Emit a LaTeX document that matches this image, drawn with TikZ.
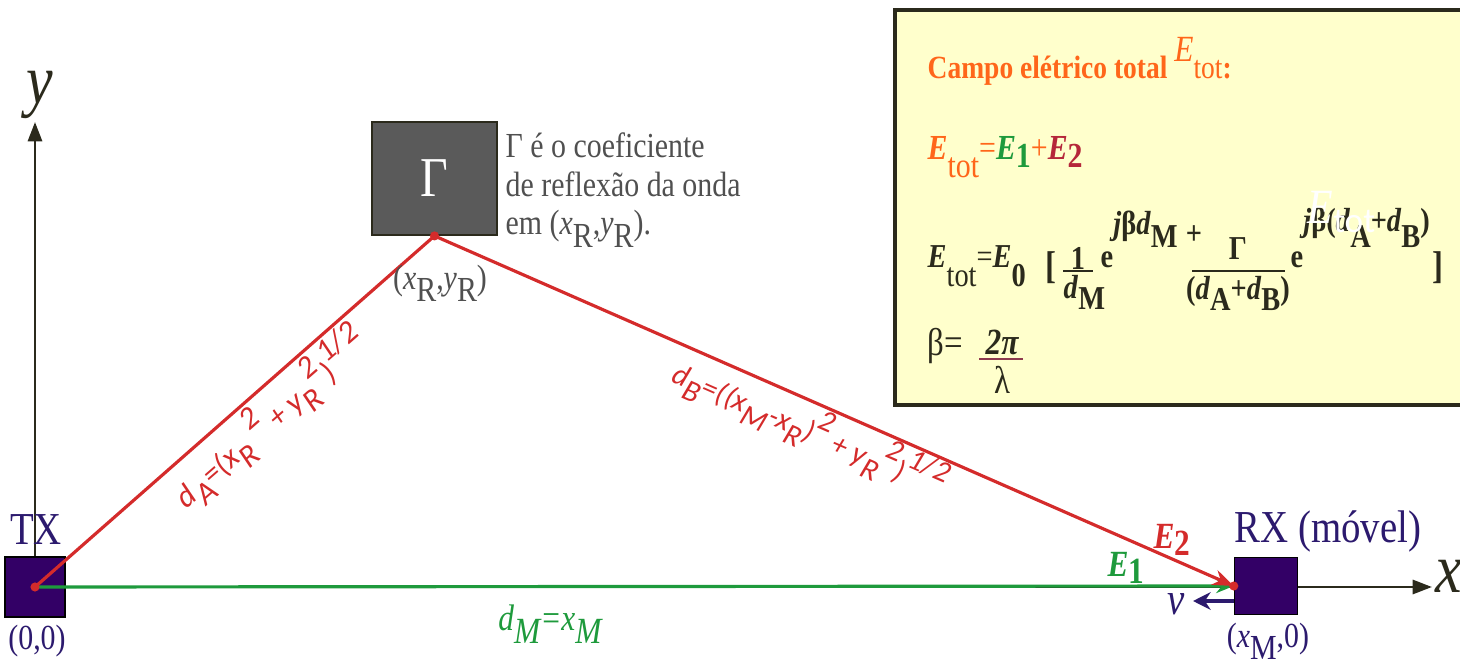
\documentclass[tikz,border=0pt]{standalone}
\usepackage{fontspec}
\setmainfont{Liberation Serif}[FakeStretch=0.85]
\setsansfont{Carlito}
\usetikzlibrary{arrows.meta,positioning}
\definecolor{navy}{HTML}{2C1A6E}
\definecolor{mobile}{HTML}{330066}
\definecolor{wave}{HTML}{D42B2B}
\definecolor{direct}{HTML}{1E9A3C}
\definecolor{orng}{HTML}{FF661A}
\definecolor{wine}{HTML}{B5273A}
\definecolor{note}{HTML}{FFFFCC}
\definecolor{ink}{HTML}{2B2A1C}
\definecolor{slab}{HTML}{5A5A5A}
\definecolor{memo}{HTML}{505050}
\definecolor{maroon}{HTML}{8E3A4E}
\newcommand{\fsz}[1]{\fontsize{#1}{#1}\selectfont}
\newcommand{\lowr}[2][-.35em]{\raisebox{#1}{#2}}
\newcommand{\rais}[2][.55em]{\raisebox{#1}{#2}}
\newcommand{\bfit}[1]{\textbf{\textit{#1}}}

\begin{document}
\begin{tikzpicture}[x=0.01cm,y=-0.01cm,
  sq/.style={draw=black,fill=mobile,line width=.4pt,inner sep=0pt},
  axis/.style={ink,line width=.8pt,-{Triangle[length=5.5pt,width=4pt]}},
  ray/.style={line width=.9pt},
  lbl/.style={navy,font=\fsz{13}},
  eq/.style={ink,anchor=base west,inner sep=0pt,font=\fsz{9.5}}]
\useasboundingbox (0,0) rectangle (1460,664);
\draw[ink,line width=.9pt,fill=note] (895,10) rectangle (1480,405);

\coordinate (o) at (35,587);
\coordinate (ytip) at (35,122);
\coordinate (xtip) at (1432,587);
\draw[axis] (o) -- (ytip);
\draw[axis] (o) -- (xtip);
\node[ink,font=\fsz{20}\itshape] (ylbl) at (40,95) {y};
\node[ink,font=\fsz{20}\itshape] (xlbl) at (1449,576) {x};

\node[sq,minimum size=.6cm] (tx) at (o) {};
\node[sq,minimum width=.63cm,minimum height=.57cm] (rx) at (1266,586) {};
\node[fill=slab,draw=ink,line width=.5pt,minimum width=1.25cm,minimum height=1.13cm,text=white,font=\fsz{16}] (refl) at (434.5,178.5) {Γ};

\draw[ray,direct,-{Stealth[length=5pt,width=4pt]}] (tx.center) -- (rx.west);
\draw[ray,wave] (tx.center) -- (refl.south);
\draw[ray,wave,-{Stealth[length=6pt,width=4.5pt]}] (refl.south) -- (rx.west);
\fill[wave] (tx.center) circle[radius=1.3pt] (refl.south) circle[radius=1.3pt] (rx.west) circle[radius=1.3pt];

\coordinate (vtip) at (1193,601);
\draw[navy,line width=1pt,-{Stealth[length=5pt,width=5pt]}] (rx.west |- vtip) -- (vtip);
\node[navy,font=\fsz{13}\itshape] (vlbl) at (1176,604) {v};

\node[lbl] (txlbl) at (36,530) {TX};
\node[lbl] (rxlbl) at (1328,531) {RX (móvel)};
\node[navy,font=\fsz{10}] (orig) at (37,641) {(0,0)};
\node[navy,font=\fsz{10}] (rxpos) at (1268,641) {(\textit{x}\lowr{M},0)};

\node[direct,font=\fsz{10.5}] (e1) at (1126,568) {\bfit{E}\lowr[-.2em]{\textbf{1}}};
\node[wave,font=\fsz{10.5}] (e2) at (1172,540) {\bfit{E}\lowr[-.2em]{\textbf{2}}};
\node[direct,font=\fsz{10.5}\itshape] (dm) at (550,624) {d\lowr{M}=x\lowr{M}};

\node[wave,font=\sffamily\itshape\fsz{9},rotate=41.05] (dalbl) at (270,418) {d\lowr{A}=(x\lowr{R} \rais{2} + y\lowr{R}\rais{2})\rais{1/2}};
\node[wave,font=\sffamily\itshape\fsz{8.6},rotate=-23.65] (dblbl) at (810,428) {d\lowr{B}=((x\lowr{M}-x\lowr{R})\rais{2} + y\lowr{R}\rais{2})\rais{1/2}};

\node[memo,font=\fontsize{10}{11}\selectfont,align=left,anchor=north west,inner sep=0pt] (memo) at (505,132) {Γ é o coeficiente\\de reflexão da onda\\em (\textit{x}\lowr{R},\textit{y}\lowr{R}).};
\node[memo,font=\fsz{10}] (rpos) at (440,283) {(\textit{x}\lowr{R},\textit{y}\lowr{R})};

\node[orng,anchor=base west,inner sep=0pt,font=\fsz{9.2}] (title) at (927,79) {\textbf{Campo elétrico total} \rais{\fsz{10.5}\textit{E}}tot\textbf{:}};
\node[orng,anchor=base west,inner sep=0pt,font=\fsz{10}] (sum) at (927,160) {\bfit{E}\lowr[-.5em]{tot}=\textcolor{direct}{\bfit{E}\lowr[-.2em]{\textbf{1}}}+\textcolor{wine}{\bfit{E}\lowr[-.2em]{\textbf{2}}}};

\node[eq] (lhs) at (927,268) {\bfit{E}\lowr[-.55em]{tot}=\bfit{E}\lowr[-.55em]{\textbf{0}}};
\node[ink,font=\fsz{11}\bfseries] (lbr) at (1051,268) {[};
\node[ink,font=\fsz{9.5}\bfseries] (one) at (1078,258) {1};
\draw[ink,line width=.6pt] (1063,271) -- (1093,271);
\node[eq] (dmden) at (1063,299) {\bfit{d}\lowr[-.3em]{\textbf{M}}};
\node[eq] (expa) at (1100,268) {\textbf{e}\rais[1em]{\bfit{j}\textbf{β}\bfit{d}\lowr[-.4em]{\textbf{M}}}\hspace{.25em}\rais[.7em]{\textbf{+}}};
\node[ink,font=\fsz{9.5}\bfseries] (gam) at (1238,249) {Γ};
\draw[ink,line width=.6pt] (1192,271) -- (1285,271);
\node[eq,anchor=base,font=\fsz{9.5}\bfseries] (dsum) at (1238,300) {(\textit{d}\lowr[-.3em]{A}+\textit{d}\lowr[-.3em]{B})};
\node[eq,font=\fsz{9.5}\bfseries] (expb) at (1290,268) {e\rais[1.1em]{\textit{j}β(\textit{d}\lowr[-.5em]{A}+\textit{d}\lowr[-.5em]{B})}};
\node[ink,font=\fsz{11}\bfseries] (rbr) at (1438,268) {]};
\node[white,anchor=base west,inner sep=0pt] (ghost) at (1307,224) {\fsz{14}\textit{E}\lowr[-2.3pt]{\sffamily\fsz{10}tot}};

\node[eq,font=\fsz{11}] (beta) at (927,355) {β=};
\node[ink,font=\fsz{10.5}\bfseries\itshape] (twopi) at (1002,342) {2π};
\draw[maroon,line width=.8pt] (979,359) -- (1023,359);
\node[ink,font=\fsz{11}] (lam) at (1002,380) {λ};
\end{tikzpicture}
\end{document}
